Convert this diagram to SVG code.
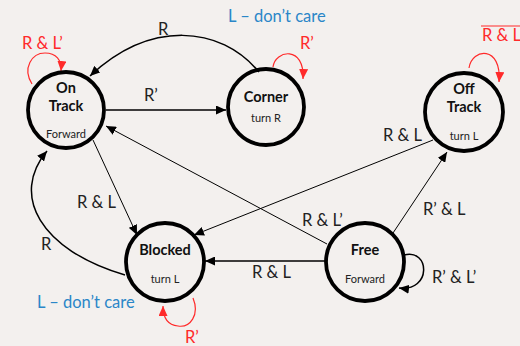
<svg xmlns="http://www.w3.org/2000/svg" width="520" height="346" viewBox="0 0 520 346">
<defs>
<style>
.st{fill:none;stroke:#000;stroke-width:3.8}
.nm{font-family:Lato,"Open Sans","Liberation Sans",sans-serif;font-weight:bold;font-size:14.5px;fill:#111;text-anchor:middle}
.sb{font-family:Lato,"Open Sans","Liberation Sans",sans-serif;font-size:11px;fill:#222;text-anchor:middle}
.lb{font-family:Lato,"Open Sans","Liberation Sans",sans-serif;font-size:16.5px;fill:#222}
.rd{font-family:Lato,"Open Sans","Liberation Sans",sans-serif;font-size:16.5px;fill:#ff2a2a}
.bl{font-family:Lato,"Open Sans","Liberation Sans",sans-serif;font-size:16.5px;fill:#2a86c8}
.c1{fill:none;stroke:#000;stroke-width:1.5}
.c0{fill:none;stroke:#000;stroke-width:1}
.cr{fill:none;stroke:#ff2a2a;stroke-width:1.2}
</style>
<marker id="ab" markerUnits="userSpaceOnUse" markerWidth="11" markerHeight="9" refX="10" refY="4.5" orient="auto">
<path d="M0,0 L10,4.5 L0,9 Z" fill="#000"/>
</marker>
<marker id="ar" markerUnits="userSpaceOnUse" markerWidth="11" markerHeight="9" refX="10" refY="4.5" orient="auto">
<path d="M0,0 L10,4.5 L0,9 Z" fill="#ff2a2a"/>
</marker>
</defs>
<rect width="520" height="346" fill="#f3f0ee"/>
<g id="connectors">
<path class="c1" d="M259 72 C220 25 150 20 90 76" marker-end="url(#ab)"/>
<path class="c1" d="M106 110 L226 110" marker-end="url(#ab)"/>
<path class="c0" d="M327 244 L106 126" marker-end="url(#ab)"/>
<path class="c0" d="M93 140 L137 235" marker-end="url(#ab)"/>
<path class="c0" d="M433 140 L194 235" marker-end="url(#ab)"/>
<path class="c1" d="M325 261 L205 261" marker-end="url(#ab)"/>
<path class="c0" d="M393 233 L447 152" marker-end="url(#ab)"/>
<path class="c1" d="M125 275 C40 250 10 195 47 151" marker-end="url(#ab)"/>
<path class="cr" d="M32 84 C22 68 32 53 45 53 C56 53 62 60 61 71" marker-end="url(#ar)"/>
<path class="cr" d="M273 67 C275 50 305 45 303 79" marker-end="url(#ar)"/>
<path class="cr" d="M469 68 C472 48 502 45 499 82" marker-end="url(#ar)"/>
<path class="cr" d="M193 298 C200 315 190 328 178 326 C168 325 163 318 163 306" marker-end="url(#ar)"/>
<path class="c1" d="M404 255 C430 248 432 292 399 288" marker-end="url(#ab)"/>
</g>
<g id="labels">
<text class="bl" x="228" y="22">L – don’t care</text>
<text class="rd" x="22" y="49">R &amp; L’</text>
<text class="rd" x="300" y="49">R’</text>
<line x1="481" y1="26" x2="520" y2="26" stroke="#ff2a2a" stroke-width="1"/>
<text class="rd" x="482" y="41">R &amp; L</text>
<text class="lb" x="158" y="35">R</text>
<text class="lb" x="144" y="101">R’</text>
<text class="lb" x="383" y="141">R &amp; L</text>
<text class="lb" x="77" y="208">R &amp; L</text>
<text class="lb" x="41" y="250">R</text>
<text class="bl" x="37" y="308">L – don’t care</text>
<text class="rd" x="185" y="343">R’</text>
<text class="lb" x="302" y="226">R &amp; L’</text>
<text class="lb" x="252" y="278">R &amp; L</text>
<text class="lb" x="423" y="215">R’ &amp; L</text>
<text class="lb" x="432" y="283">R’ &amp; L’</text>
</g>
<g id="on-track">
<circle class="st" cx="66" cy="110" r="38" fill="none"/>
<text class="nm" x="66" y="93">On</text>
<text class="nm" x="66" y="111">Track</text>
<text class="sb" x="66" y="138">Forward</text>
</g>
<g id="corner">
<circle class="st" cx="266" cy="107" r="38"/>
<text class="nm" x="266" y="102">Corner</text>
<text class="sb" x="266" y="122">turn R</text>
</g>
<g id="off-track">
<circle class="st" cx="464" cy="112" r="39"/>
<text class="nm" x="464" y="94">Off</text>
<text class="nm" x="464" y="112">Track</text>
<text class="sb" x="464" y="140">turn L</text>
</g>
<g id="blocked">
<circle class="st" cx="165" cy="262" r="39"/>
<text class="nm" x="165" y="255">Blocked</text>
<text class="sb" x="165" y="283">turn L</text>
</g>
<g id="free">
<circle class="st" cx="365" cy="262" r="39"/>
<text class="nm" x="365" y="255">Free</text>
<text class="sb" x="365" y="283">Forward</text>
</g>
</svg>
